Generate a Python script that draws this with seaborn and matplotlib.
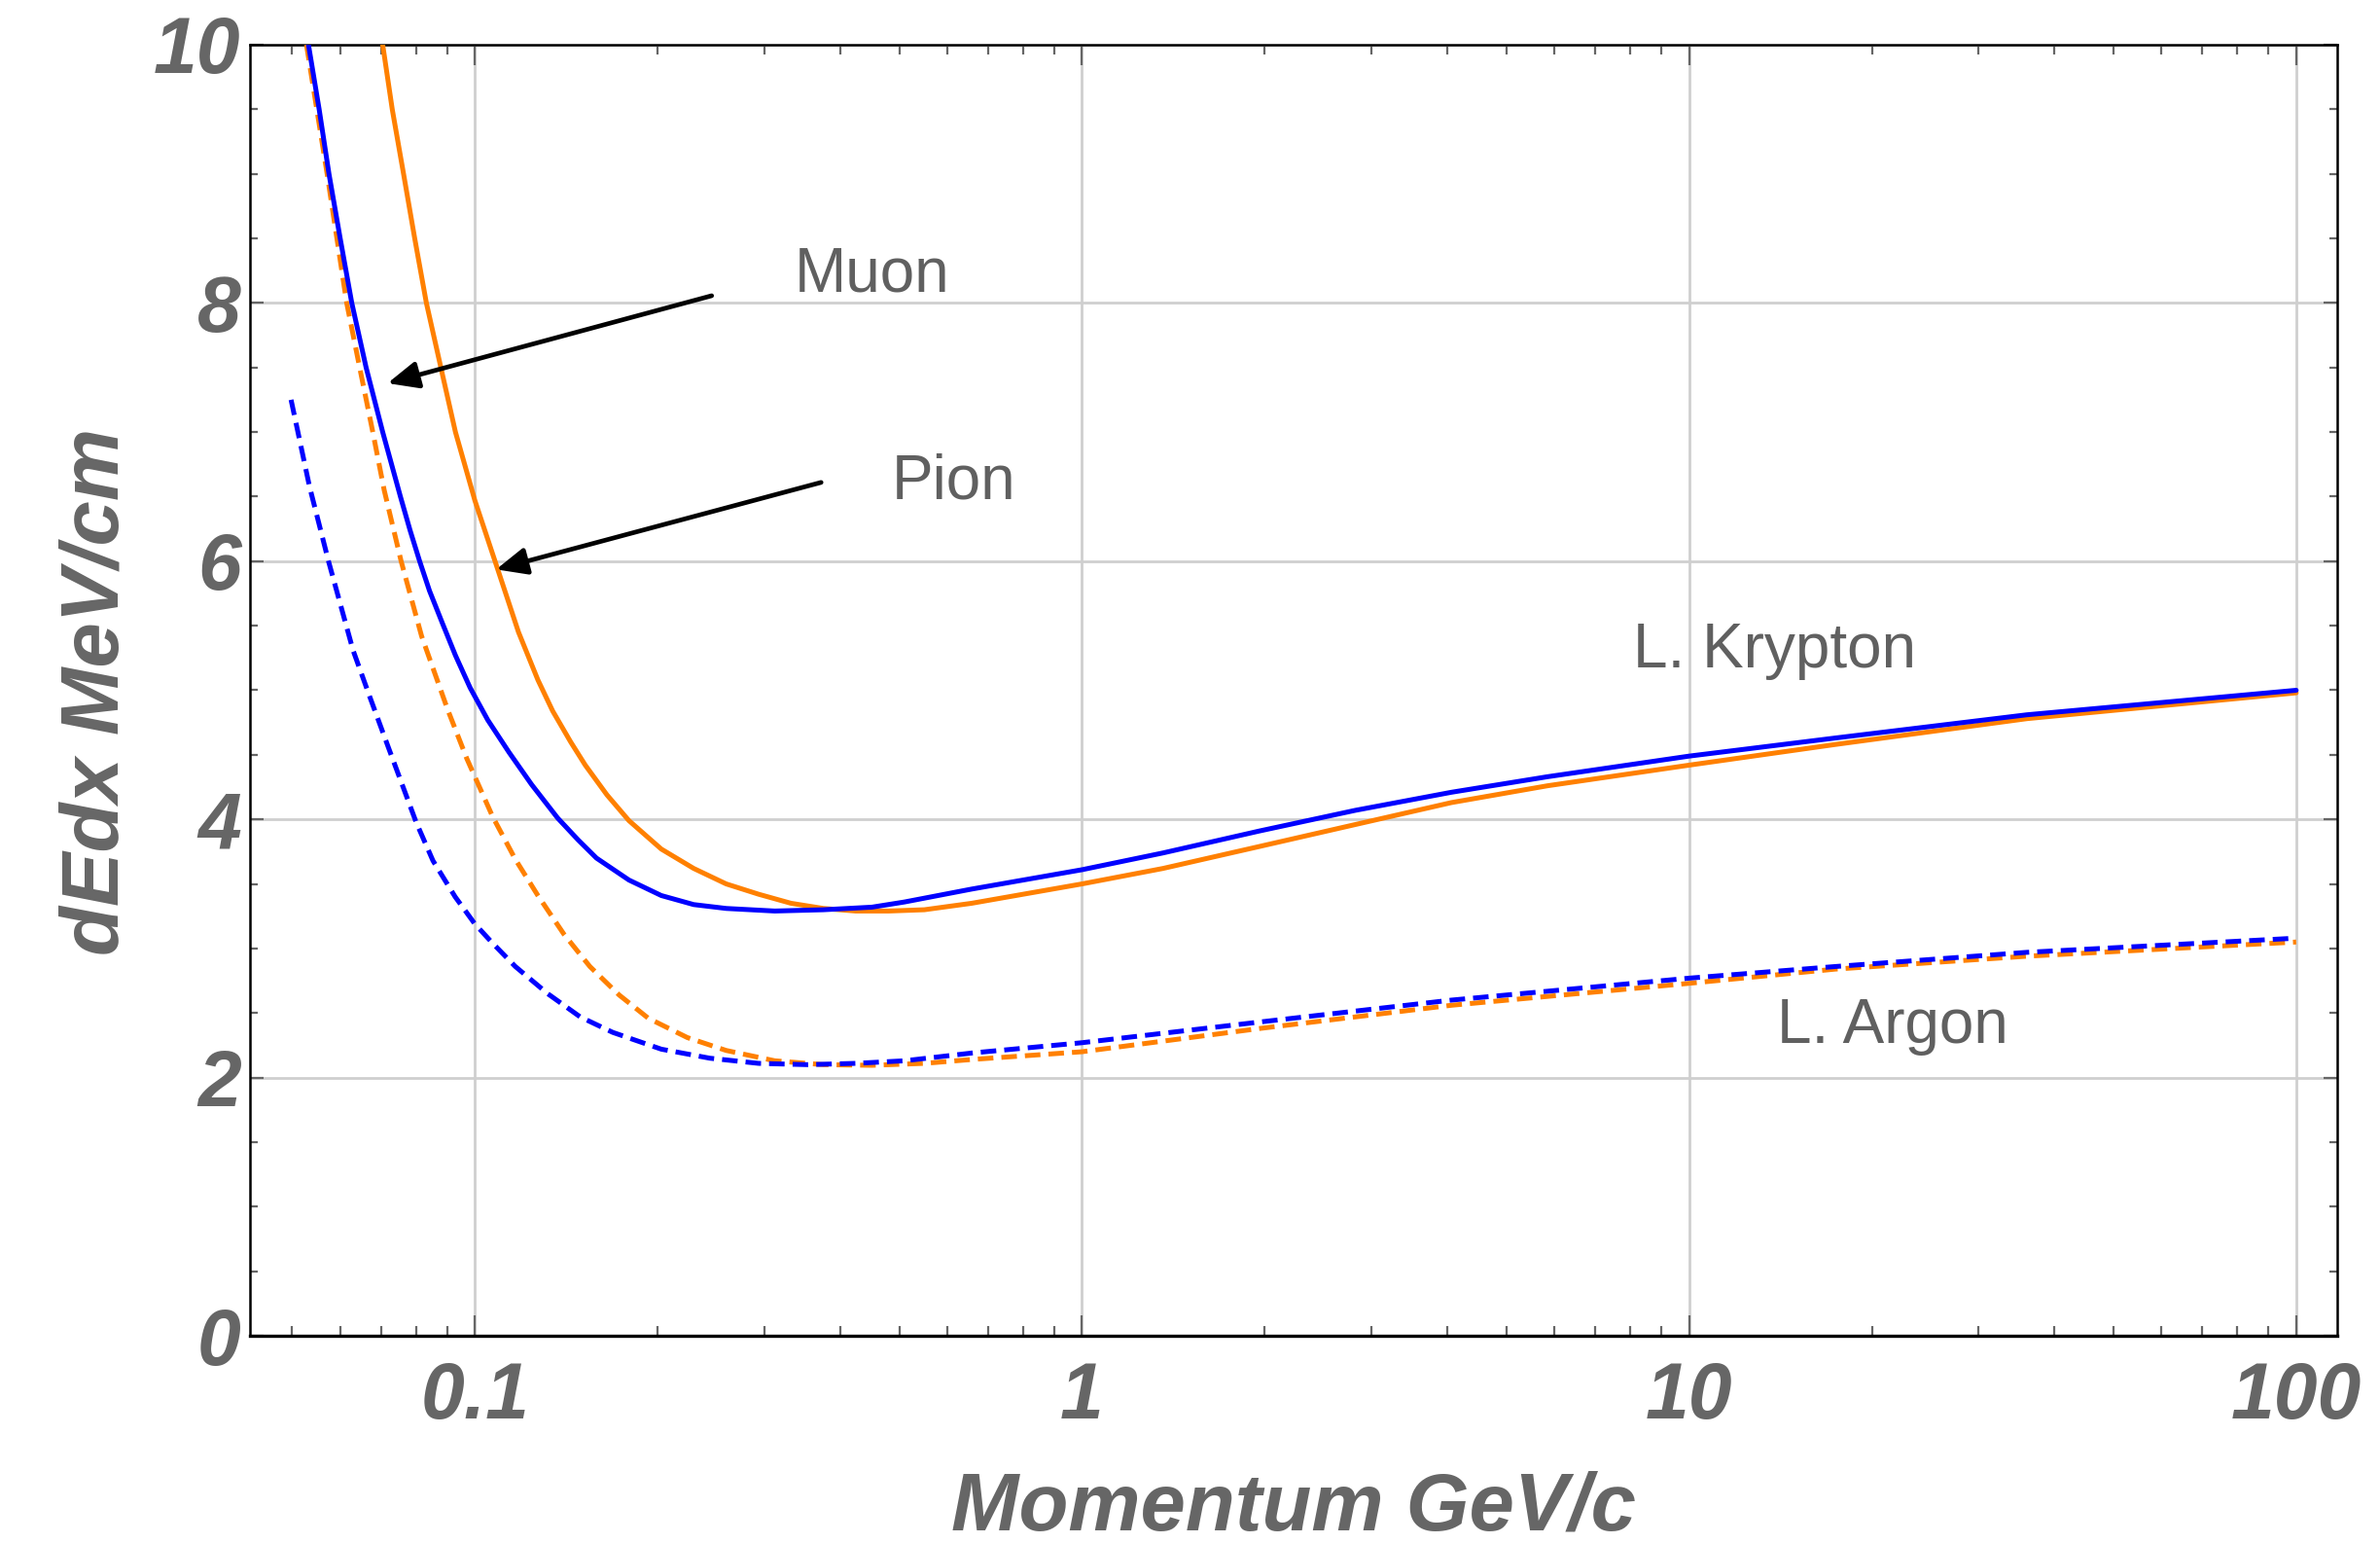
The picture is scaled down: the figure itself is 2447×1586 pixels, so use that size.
import numpy as np
import pandas as pd
import seaborn as sns
import matplotlib
matplotlib.use("Agg")
import matplotlib.pyplot as plt
from matplotlib.ticker import FixedLocator, NullFormatter, FixedFormatter

# ---------------- data ----------------
# Muon in liquid Krypton (blue solid)
p_mu_kr = [0.0532, 0.0554, 0.0575, 0.06, 0.0627, 0.0662, 0.0705, 0.0754, 0.0782,
           0.0811, 0.0842, 0.0884, 0.0929, 0.0982, 0.105, 0.1138, 0.124, 0.1369,
           0.148, 0.1586, 0.1794, 0.2028, 0.2293, 0.2594, 0.3119, 0.375, 0.451, 0.51,
           0.658, 1.0, 1.36, 1.96, 2.82, 4.06, 5.84, 10, 17.4, 36, 100]
dedx_mu_kr = [10.0, 9.5, 9.0, 8.5, 8.0, 7.5, 7.0, 6.5, 6.24,
              6.0, 5.77, 5.52, 5.27, 5.02, 4.77, 4.52, 4.27, 4.01,
              3.84, 3.70, 3.53, 3.41, 3.34, 3.31, 3.29, 3.30, 3.32, 3.36,
              3.46, 3.61, 3.74, 3.91, 4.07, 4.21, 4.33, 4.49, 4.63, 4.81, 5.0]

# Pion in liquid Krypton (orange solid)
p_pi_kr = [0.0705, 0.0731, 0.0763, 0.0796, 0.0832, 0.0879, 0.0929, 0.1, 0.109,
           0.118, 0.127, 0.1343, 0.1438, 0.152, 0.165, 0.1794, 0.2028, 0.2293, 0.2594,
           0.2934, 0.3317, 0.375, 0.424, 0.48, 0.55, 0.658,
           1.0, 1.36, 1.96, 2.82, 4.06, 5.84, 10, 17.4, 36, 100]
dedx_pi_kr = [10.0, 9.5, 9.0, 8.5, 8.0, 7.5, 7.0, 6.47, 5.94,
              5.45, 5.08, 4.84, 4.60, 4.42, 4.19, 3.99, 3.77, 3.62, 3.50,
              3.42, 3.35, 3.31, 3.29, 3.29, 3.30, 3.35,
              3.50, 3.62, 3.79, 3.96, 4.13, 4.26, 4.42, 4.58, 4.78, 4.98]

# Muon in liquid Argon (blue dashed)
p_mu_ar = [0.0498, 0.0534, 0.0574, 0.063, 0.067, 0.072, 0.080, 0.0853, 0.0928,
           0.1, 0.107, 0.1166, 0.1318, 0.1491, 0.1687, 0.2028, 0.2438, 0.2934,
           0.3526, 0.424, 0.51, 0.658, 1.0, 1.96, 4.06, 10, 17.4, 36, 100]
dedx_mu_ar = [7.25, 6.58, 6.0, 5.31, 4.96, 4.56, 3.98, 3.68, 3.40,
              3.19, 3.04, 2.86, 2.65, 2.47, 2.35, 2.22, 2.15, 2.11,
              2.10, 2.11, 2.13, 2.19, 2.27, 2.43, 2.60, 2.77, 2.86, 2.97, 3.08]

# Pion in liquid Argon (orange dashed)
p_pi_ar = [0.0528, 0.0571, 0.0615, 0.0646, 0.0679, 0.0709, 0.0756, 0.0817, 0.0902,
           0.097, 0.107, 0.1166, 0.127, 0.1402, 0.1547, 0.1728, 0.193, 0.2238,
           0.2594, 0.3119, 0.375, 0.451, 0.55, 0.658, 1.0, 1.96, 4.06, 10, 17.4,
           36, 100]
dedx_pi_ar = [10.0, 9.0, 8.0, 7.5, 7.0, 6.55, 6.0, 5.42, 4.85,
              4.47, 4.02, 3.69, 3.41, 3.11, 2.86, 2.64, 2.46, 2.31,
              2.21, 2.13, 2.10, 2.095, 2.11, 2.14, 2.20, 2.38, 2.56, 2.73, 2.84,
              2.94, 3.05]

x_major = [0.1, 1, 10, 100]
x_major_labels = ["0.1", "1", "10", "100"]
y_major = [0, 2, 4, 6, 8, 10]
y_major_labels = ["0", "2", "4", "6", "8", "10"]

labels_text = ["Muon", "Pion", "L. Krypton", "L. Argon"]

# ---------------- styling ----------------
sns.set_theme(style="white")
plt.rcParams['font.family'] = ['Liberation Sans', 'DejaVu Sans']

BLUE = "#0000FF"
ORANGE = "#FF8000"
GRAY = "#666666"
TXT = "#606060"

fig = plt.figure(figsize=(24.47, 15.86), dpi=100)
ax = fig.add_axes([0.1052, 1 - 1373 / 1586, 0.982 - 0.1052, (1373 - 46) / 1586])

lw = 3.6
dash = (0, (3.2, 1.65))
sns.lineplot(x=p_mu_kr, y=dedx_mu_kr, ax=ax, color=BLUE, linewidth=lw, sort=False, zorder=5)
sns.lineplot(x=p_pi_kr, y=dedx_pi_kr, ax=ax, color=ORANGE, linewidth=lw, sort=False, zorder=4)
sns.lineplot(x=p_mu_ar, y=dedx_mu_ar, ax=ax, color=BLUE, linewidth=lw, sort=False,
             linestyle=dash, zorder=5)
sns.lineplot(x=p_pi_ar, y=dedx_pi_ar, ax=ax, color=ORANGE, linewidth=lw, sort=False,
             linestyle=dash, zorder=4)
for ln in ax.lines:
    ln.set_linewidth(lw)
    ln.set_solid_joinstyle("round")
    ln.set_dash_joinstyle("round")

ax.set_xscale("log")
ax.set_xlim(0.04268, 116.8)
ax.set_ylim(0, 10)

# ticks
minor_x = []
for dec in [0.01, 0.1, 1, 10]:
    for k in range(2, 10):
        v = k * dec
        if 0.04268 < v < 116.8:
            minor_x.append(v)
ax.xaxis.set_major_locator(FixedLocator(x_major))
ax.xaxis.set_major_formatter(FixedFormatter(x_major_labels))
ax.xaxis.set_minor_locator(FixedLocator(minor_x))
ax.xaxis.set_minor_formatter(NullFormatter())
ax.yaxis.set_major_locator(FixedLocator(y_major))
ax.yaxis.set_major_formatter(FixedFormatter(y_major_labels))
ax.yaxis.set_minor_locator(FixedLocator([v + 0.5 * i for v in range(0, 10, 2) for i in (1, 2, 3)]))

ax.tick_params(axis="x", which="major", direction="in", length=15, width=1.6,
               color=GRAY, top=True, bottom=True, pad=19)
ax.tick_params(axis="x", which="minor", direction="in", length=7.5, width=1.6,
               color=GRAY, top=True, bottom=True)
ax.tick_params(axis="y", which="major", direction="in", length=10, width=1.6,
               color=GRAY, left=True, right=True, pad=7)
ax.tick_params(axis="y", which="minor", direction="in", length=6, width=1.6,
               color=GRAY, left=True, right=True)

for lab in ax.get_xticklabels() + ax.get_yticklabels():
    lab.set_fontsize(58)
    lab.set_fontweight("bold")
    lab.set_fontstyle("italic")
    lab.set_color(GRAY)

ax.grid(True, which="major", color="#cfcfcf", linewidth=2.0, zorder=0)
ax.set_axisbelow(True)

for side in ["left", "right", "top"]:
    ax.spines[side].set_color("black")
    ax.spines[side].set_linewidth(1.8)
ax.spines["bottom"].set_color("black")
ax.spines["bottom"].set_linewidth(2.4)

ax.set_xlabel("Momentum GeV/c", fontsize=60, fontweight="bold", fontstyle="italic",
              color=GRAY, va="baseline")
ax.xaxis.set_label_coords(0.5, -0.1507)
ax.set_ylabel("dEdx MeV/cm", fontsize=60, fontweight="bold", fontstyle="italic",
              color=GRAY, va="baseline")
ax.yaxis.set_label_coords(-0.0632, 0.4985)

# annotations
text_kw = dict(fontsize=46, color=TXT, ha="center", va="baseline")
ax.text(0.4508, 8.088, labels_text[0], **text_kw)
ax.text(0.6157, 6.483, labels_text[1], **text_kw)
ax.text(13.85, 5.177, labels_text[2], **text_kw)
ax.text(21.63, 2.266, labels_text[3], **text_kw)

arrow_kw = dict(arrowstyle="-|>,head_length=0.95,head_width=0.42", lw=3.4,
                color="black", shrinkA=0, shrinkB=0, mutation_scale=20)
ax.annotate("", xy=(0.0718, 7.378), xytext=(0.2455, 8.056), arrowprops=arrow_kw, zorder=6)
ax.annotate("", xy=(0.1084, 5.936), xytext=(0.3718, 6.61), arrowprops=arrow_kw, zorder=6)

fig.savefig("out.png", dpi=100)
